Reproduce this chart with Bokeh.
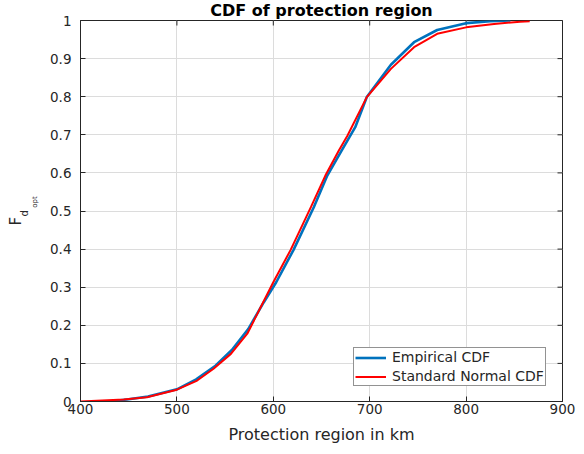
from math import pi
from bokeh.plotting import figure
from bokeh.models import LinearAxis, Title, Legend, LegendItem, FixedTicker, Range1d
from bokeh.embed import file_html
from bokeh.resources import INLINE

# ---- data ----
x_emp = [430, 450, 470, 500, 520, 540, 557, 574, 590, 603, 621, 642, 656, 671, 685, 697, 722, 746, 770, 800, 825, 846]
F_emp = [0.0, 0.006, 0.013, 0.032, 0.058, 0.094, 0.135, 0.19, 0.26, 0.313, 0.398, 0.51, 0.593, 0.659, 0.72, 0.799, 0.884, 0.943, 0.975, 0.993, 0.998, 1.0]

x_norm = [400, 445, 469, 500, 521, 538, 556, 573, 587, 600, 618, 639, 654, 668, 677, 697, 722, 746, 770, 800, 829, 856, 866]
F_norm = [0.0, 0.005, 0.011, 0.031, 0.055, 0.086, 0.125, 0.178, 0.248, 0.313, 0.398, 0.51, 0.593, 0.659, 0.698, 0.799, 0.873, 0.93, 0.965, 0.982, 0.991, 0.997, 0.998]

x_ticks = [400, 500, 600, 700, 800, 900]
y_ticks = [0, 0.1, 0.2, 0.3, 0.4, 0.5, 0.6, 0.7, 0.8, 0.9, 1.0]
y_tick_labels = ["0", "0.1", "0.2", "0.3", "0.4", "0.5", "0.6", "0.7", "0.8", "0.9", "1"]

title_text = "CDF of protection region"
xlabel_text = "Protection region in km"
ylabel_parts = ["F", "d", "opt"]
legend_labels = ["Empirical CDF", "Standard Normal CDF"]

BLUE = "#0072BD"
RED = "#FF0000"
AX = "#262626"
FONT = "DejaVu Sans"
NBSP = "\u00a0"

W, H = 576, 446
p = figure(width=W, height=H, output_backend="svg", toolbar_location=None,
           x_range=Range1d(400, 900), y_range=Range1d(0, 1),
           min_border_left=80, min_border_right=14, min_border_top=20, min_border_bottom=45,
           x_axis_location=None, y_axis_location=None)
p.title.text = title_text
p.title.align = "center"
p.title.vertical_align = "top"
p.title.text_font = FONT
p.title.text_font_size = "16px"
p.title.text_font_style = "bold"
p.title.text_color = "black"
p.title.standoff = -2
p.background_fill_color = "white"
p.border_fill_color = "white"
p.outline_line_color = AX
p.outline_line_width = 1

def style_axis(ax):
    ax.axis_line_color = AX
    ax.major_tick_line_color = AX
    ax.major_tick_in = 5
    ax.major_tick_out = 0
    ax.minor_tick_line_color = None
    ax.major_label_text_color = AX
    ax.major_label_text_font = FONT
    ax.major_label_text_font_size = "13.5px"

xb = LinearAxis(ticker=FixedTicker(ticks=x_ticks))
style_axis(xb)
xb.major_label_standoff = 2
xb.axis_label = xlabel_text
xb.axis_label_text_font = FONT
xb.axis_label_text_font_size = "16px"
xb.axis_label_text_font_style = "normal"
xb.axis_label_text_color = AX
xb.axis_label_standoff = 8
p.add_layout(xb, "below")

yl = LinearAxis(ticker=FixedTicker(ticks=y_ticks))
style_axis(yl)
yl.major_label_standoff = 9
yl.major_label_overrides = {t: s for t, s in zip(y_ticks, y_tick_labels)}
# innermost part of the y label (second-level subscript)
yl.axis_label = NBSP * 8 + ylabel_parts[2]
yl.axis_label_text_font = FONT
yl.axis_label_text_font_size = "7px"
yl.axis_label_text_font_style = "normal"
yl.axis_label_text_color = AX
yl.axis_label_standoff = 8
p.add_layout(yl, "left")

# remaining parts of the y label F_{d_{opt}}: rotated titles in the left panel
p.add_layout(Title(text=ylabel_parts[1], align="left", offset=185, vertical_align="bottom",
                   text_font=FONT, text_font_size="10px", text_font_style="normal",
                   text_color=AX, standoff=-2), "left")
p.add_layout(Title(text=ylabel_parts[0], align="left", offset=176, vertical_align="bottom",
                   text_font=FONT, text_font_size="15px", text_font_style="normal",
                   text_color=AX, standoff=-14), "left")

p.xgrid.ticker = FixedTicker(ticks=x_ticks)
p.ygrid.ticker = FixedTicker(ticks=y_ticks)
p.grid.grid_line_color = "#dcdcdc"
p.grid.grid_line_width = 1

# inward ticks on the top and right edges (half of each dash is clipped by the frame)
p.scatter(x=x_ticks, y=[1.0] * len(x_ticks), marker="dash", size=10, angle=pi / 2,
          line_color=AX, line_width=1)
p.scatter(x=[900] * len(y_ticks), y=y_ticks, marker="dash", size=10,
          line_color=AX, line_width=1)

r_emp = p.line(x_emp, F_emp, line_color=BLUE, line_width=2.6)
r_norm = p.line(x_norm, F_norm, line_color=RED, line_width=2)

legend = Legend(items=[LegendItem(label=legend_labels[0], renderers=[r_emp]),
                       LegendItem(label=legend_labels[1], renderers=[r_norm])],
                location=(273, 15))
legend.label_text_font = FONT
legend.label_text_font_size = "14px"
legend.label_text_color = AX
legend.border_line_color = AX
legend.border_line_width = 1
legend.background_fill_color = "white"
legend.background_fill_alpha = 1
legend.glyph_width = 31
legend.glyph_height = 15
legend.label_standoff = 6
legend.label_height = 15
legend.spacing = 3
legend.padding = 1
legend.margin = 0
p.add_layout(legend, "center")

open("out.html", "w").write(file_html(p, INLINE))
